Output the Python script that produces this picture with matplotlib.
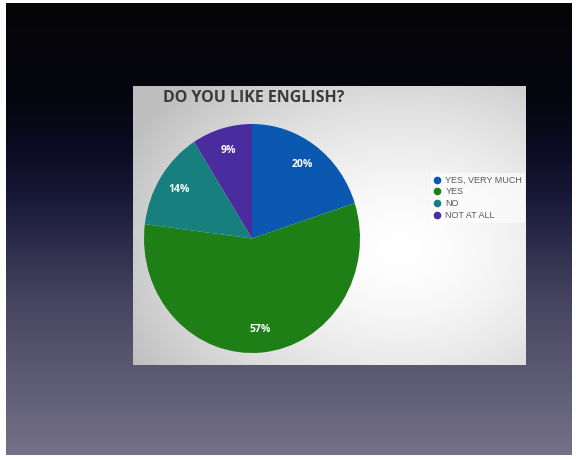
import numpy as np
import matplotlib.pyplot as plt
from matplotlib.lines import Line2D

# survey answers
answers = ["YES, VERY MUCH", "YES", "NO", "NOT AT ALL"]
shares = [20, 57, 14, 9]
colors = ["#0a58b0", "#1e7f16", "#17807f", "#4b2c9e"]

W, H = 576, 459
fig = plt.figure(figsize=(W / 100, H / 100), dpi=100)
fig.patch.set_facecolor("white")

# pixel-space axes for the slide backdrop
bg = fig.add_axes([0, 0, 1, 1])
bg.set_xlim(0, W)
bg.set_ylim(H, 0)
bg.axis("off")

# dark vertical gradient of the slide
ys = np.array([0, 100, 150, 200, 300, 455])
stops = np.array([[5, 5, 8], [6, 6, 16], [12, 12, 36], [26, 26, 58],
                  [70, 68, 96], [116, 113, 136]]) / 255
rows = np.linspace(0, 455, 300)
grad = np.stack([np.interp(rows, ys, stops[:, c]) for c in range(3)], axis=-1)
grad = np.repeat(grad[:, None, :], 2, axis=1)
bg.imshow(grad, extent=(6, 572, 455, 3), aspect="auto", interpolation="bilinear", zorder=0)

# light panel with a soft white glow on the right
px0, px1, py0, py1 = 133, 526, 86, 365
gx, gy = np.meshgrid(np.linspace(px0, px1, 200), np.linspace(py0, py1, 150))
d = np.sqrt(((gx - 400) / 260) ** 2 + ((gy - 250) / 190) ** 2)
shade = 1.0 - 0.19 * np.clip(d, 0, 1.2) ** 1.6
panel = np.dstack([shade, shade, shade])
bg.imshow(panel, extent=(px0, px1, py1, py0), aspect="auto", interpolation="bilinear", zorder=1)
bg.set_xlim(0, W)
bg.set_ylim(H, 0)

fig.text(163 / W, 1 - 98 / H, "DO YOU LIKE ENGLISH?", fontsize=11.5, fontweight="bold",
         family="Open Sans", color="#3b3b3b", va="center", ha="left")

# pie in its own axes, slightly taller than wide
cx, cy, rx, ry = 252, 238.5, 108, 114.5
ax = fig.add_axes([(cx - rx) / W, 1 - (cy + ry) / H, 2 * rx / W, 2 * ry / H])
wedges, texts, autotexts = ax.pie(
    shares, colors=colors, startangle=90, counterclock=False,
    autopct="%d%%", pctdistance=0.8, radius=1.0,
    wedgeprops=dict(linewidth=0),
    textprops=dict(color="white", fontsize=7.5, fontweight="bold", family="Open Sans"))
ax.set_aspect("auto")
ax.set_xlim(-1, 1)
ax.set_ylim(-1, 1)

handles = [Line2D([], [], marker="o", linestyle="none", markersize=4.5,
                  markerfacecolor=c, markeredgecolor=c) for c in colors]
leg = fig.legend(handles, answers, loc="upper left",
                 bbox_to_anchor=(431 / W, 1 - 173 / H), frameon=True,
                 fontsize=6.5, handlelength=0.8, handletextpad=0.5,
                 labelspacing=0.3, borderpad=0.3, borderaxespad=0)
leg.get_frame().set_facecolor("white")
leg.get_frame().set_alpha(0.6)
leg.get_frame().set_linewidth(0)
leg.get_frame().set_boxstyle("square", pad=0)
for t in leg.get_texts():
    t.set_color("#5a5a5a")
    t.set_family("Liberation Sans")

fig.savefig("out.png", dpi=100)
